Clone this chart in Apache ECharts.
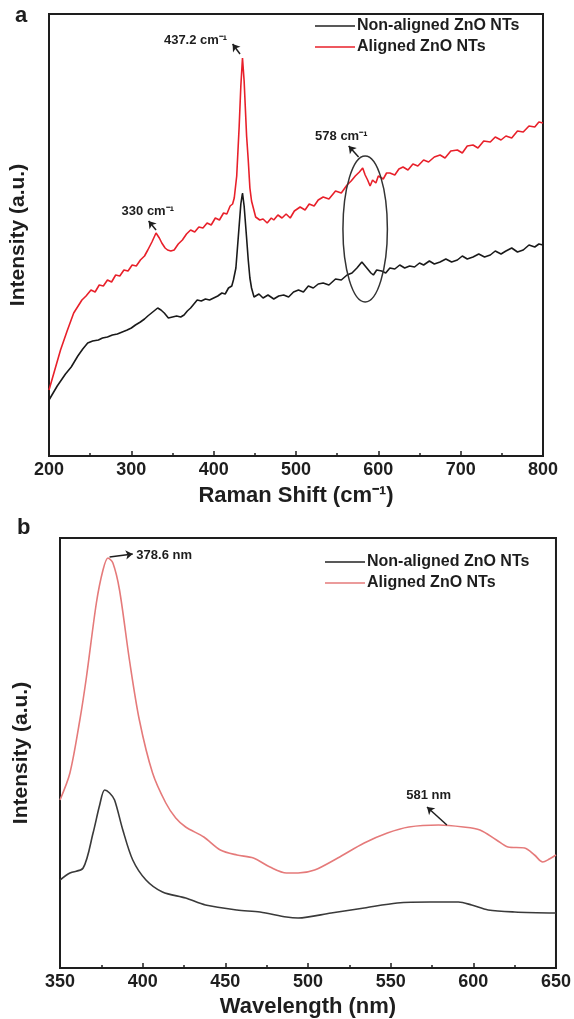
<!DOCTYPE html>
<html lang="en">

<head>
  <meta charset="UTF-8">
  <title>ZnO NTs Raman / PL</title>
  <script src="https://cdn.jsdelivr.net/npm/echarts@6/dist/echarts.min.js"></script>
  <style>
    html, body { margin: 0; padding: 0; background: #fff; }
    #main { width: 574px; height: 1019px; }
  </style>
</head>

<body>
  <div id="main"></div>
  <script>
    // panel a - Raman spectra (intensity in arbitrary units)
    var ramanXNon = [200,205,210,215,220,227,235,241,247,253,260,265,271,277,283,289,295,300,305,311,316,320,326,332,336,340,345,350,355,360,364,368,372,376,380,385,390,395,400,405,410,414,418,422,424,427,430,433,435,437,440,442,444,446,
      449,455,460,466,473,479,485,491,497,503,509,515,521,527,533,540,548,555,562,568,574,580,584,587,591,594,598,604,609,614,620,626,632,638,644,650,655,662,668,675,682,689,696,702,708,715,722,729,736,742,749,755,762,769,776,783,790,795,800]
    var ramanNon = [56,63,70,76,82,89,100,107,113,115,116,118,119,121,122,124,126,128,131,134,137,140,144,148,146,143,138,139,140,139,141,145,148,152,156,155,157,156,158,160,163,162,168,170,176,188,220,252,263,250,218,196,178,168,
      159,162,158,161,157,160,161,159,164,166,164,170,168,172,173,171,177,176,181,183,188,194,190,187,183,181,186,185,183,188,187,191,188,190,189,193,191,195,192,194,197,194,196,200,197,199,202,199,201,205,202,205,208,204,206,211,209,212,211]
    var ramanXAl = [200,207,214,222,230,240,245,251,256,261,266,271,276,281,286,291,296,301,306,311,316,320,325,330,334,337,341,344,348,352,357,362,367,372,377,382,387,392,397,402,407,412,416,420,423,425,428,431,433,435,437,440,442,444,446,
      451,456,460,465,470,473,478,483,488,493,498,505,511,516,522,527,533,540,548,555,562,567,572,577,581,584,587,590,593,597,600,606,610,614,620,625,630,636,642,648,655,661,668,675,681,688,696,702,708,715,721,728,736,742,749,755,762,769,776,783,790,795,800]
    var ramanAl = [66,86,106,125,143,156,160,166,164,171,170,176,174,181,180,186,185,191,190,196,200,206,214,223,218,213,208,206,205,206,212,216,222,226,224,229,228,233,231,238,236,243,242,250,252,258,280,330,370,398,375,320,296,268,255,
      239,236,237,233,238,236,241,238,242,238,245,249,246,252,250,256,259,257,265,263,271,275,280,284,288,281,276,270,276,273,280,277,283,283,281,287,289,286,292,290,296,294,299,301,298,305,306,303,310,311,308,315,314,319,316,320,318,325,324,330,329,334,333]

    // panel b - PL spectra
    var plXNon = [350,356,364,370,374,377,380,383,388,394,402,412,426,438,457,471,487,494,514,534,554,574,591,599,609,625,650]
    var plNon = [80,87,92,127,155,170,167,160,130,100,80,68,62,55,50,48,43,42,47,52,57,58,58,55,50,48,47]
    var plXAl = [350,356,362,366,372,376,379,382,386,392,398,406,414,420,426,437,447,457,467,477,487,494,504,518,534,548,561,579,594,604,614,621,631,637,642,646,650]
    var plAl = [160,187,240,283,357,390,402,397,370,300,240,187,157,142,133,123,110,105,102,93,87,87,90,102,117,127,133,135,133,130,120,113,112,105,98,101,105]

    var ramanTicks = [200, 800, 100]
    var plTicks = [350, 650, 50]
    var names = ['Non-aligned ZnO NTs', 'Aligned ZnO NTs']

    // annotations: label [x, y], arrow from -> to (data units)
    var ramanNotes = [
      { text: '437.2 cm⁻¹', at: [378, 416], from: [432, 402], to: [423, 412] },
      { text: '330 cm⁻¹', at: [320, 245], from: [330, 226], to: [321, 235] },
      { text: '578 cm⁻¹', at: [555, 320], from: [576, 299], to: [564, 310] }
    ]
    var plNotes = [
      { text: '378.6 nm', at: [413, 405], from: [380, 403], to: [394, 406] },
      { text: '581 nm', at: [573, 165], from: [584, 135], to: [572, 153] }
    ]
    // ellipse around the 578 band: centre, half-width, half-height
    var ramanRing = [[584, 227, 27, 73]]

    var FONT = '"Liberation Sans", Arial, sans-serif'
    var INK = '#1e1e1e'

    function zip(xs, ys) { return xs.map(function (x, i) { return [x, ys[i]] }) }

    function notes(list) {
      return {
        points: {
          symbol: 'circle', symbolSize: 1, silent: true,
          itemStyle: { color: 'rgba(0,0,0,0)' },
          label: { show: true, position: 'inside', color: INK, fontFamily: FONT, fontWeight: 'bold', fontSize: 13 },
          data: list.map(function (n) { return { coord: n.at, label: { formatter: n.text } } })
        },
        arrows: {
          silent: true, animation: false, symbolSize: 7,
          lineStyle: { color: INK, width: 1.5, type: 'solid' },
          label: { show: false },
          data: list.map(function (n) {
            return [{ coord: n.from, symbol: 'none' }, { coord: n.to, symbol: 'arrow' }]
          })
        }
      }
    }

    function xAxis(idx, t, name, gap) {
      return {
        gridIndex: idx, type: 'value', min: t[0], max: t[1], interval: t[2],
        name: name, nameLocation: 'middle', nameGap: gap,
        nameTextStyle: { color: INK, fontFamily: FONT, fontWeight: 'bold', fontSize: 22 },
        axisLine: { onZero: false, lineStyle: { color: INK, width: 2 } },
        axisTick: { inside: true, length: 5, lineStyle: { color: INK, width: 1.5 } },
        minorTick: { show: true, splitNumber: 2, length: 3, lineStyle: { color: INK, width: 1.5 } },
        axisLabel: { color: INK, fontFamily: FONT, fontWeight: 'bold', fontSize: 18, margin: 5 },
        splitLine: { show: false }
      }
    }

    function yAxis(idx, min, max, gap) {
      return {
        gridIndex: idx, type: 'value', min: min, max: max,
        name: 'Intensity (a.u.)', nameLocation: 'middle', nameGap: gap,
        nameTextStyle: { color: INK, fontFamily: FONT, fontWeight: 'bold', fontSize: 21 },
        axisLine: { show: true, onZero: false, lineStyle: { color: INK, width: 2 } },
        axisTick: { show: false }, axisLabel: { show: false }, splitLine: { show: false }
      }
    }

    function legend(left, top, red) {
      return {
        left: left, top: top, orient: 'vertical', itemGap: 5,
        icon: 'rect', itemWidth: 40, itemHeight: 1.5, selectedMode: false,
        textStyle: { color: INK, fontFamily: FONT, fontWeight: 'bold', fontSize: 16, padding: [0, 0, 0, -3] },
        data: [
          { name: names[0], itemStyle: { color: '#222' } },
          { name: names[1], itemStyle: { color: red } }
        ]
      }
    }

    var na = notes(ramanNotes)
    var nb = notes(plNotes)

    var myChart = echarts.init(document.getElementById('main'))
    var option = {
      animation: false,
      backgroundColor: '#fff',
      title: [
        { text: 'a', left: 10, top: 0, textStyle: { color: INK, fontFamily: FONT, fontWeight: 'bold', fontSize: 22 } },
        { text: 'b', left: 12, top: 512, textStyle: { color: INK, fontFamily: FONT, fontWeight: 'bold', fontSize: 22 } }
      ],
      legend: [legend(310, 13, '#e8202a'), legend(320, 549, '#e57a7a')],
      grid: [
        { left: 48, top: 14, width: 495, height: 442, show: true, borderColor: INK, borderWidth: 2 },
        { left: 60, top: 538, width: 498, height: 430, show: true, borderColor: INK, borderWidth: 2 }
      ],
      xAxis: [
        xAxis(0, ramanTicks, 'Raman Shift (cm⁻¹)', 29),
        xAxis(1, plTicks, 'Wavelength (nm)', 28)
      ],
      yAxis: [yAxis(0, 0, 442, 20), yAxis(1, -8, 422, 28)],
      series: [
        {
          name: names[0], type: 'line', xAxisIndex: 0, yAxisIndex: 0, showSymbol: false,
          lineStyle: { color: '#1a1a1a', width: 1.6 }, itemStyle: { color: '#1a1a1a' },
          data: zip(ramanXNon, ramanNon), z: 3
        },
        {
          name: names[1], type: 'line', xAxisIndex: 0, yAxisIndex: 0, showSymbol: false,
          lineStyle: { color: '#e8202a', width: 1.6 }, itemStyle: { color: '#e8202a' },
          data: zip(ramanXAl, ramanAl), z: 2,
          markPoint: na.points, markLine: na.arrows
        },
        {
          type: 'custom', xAxisIndex: 0, yAxisIndex: 0, silent: true, z: 4,
          data: ramanRing,
          renderItem: function (params, api) {
            var c = api.coord([api.value(0), api.value(1)])
            var e = api.coord([api.value(0) + api.value(2), api.value(1) + api.value(3)])
            return {
              type: 'ellipse',
              shape: { cx: c[0], cy: c[1], rx: Math.abs(e[0] - c[0]), ry: Math.abs(c[1] - e[1]) },
              style: { fill: 'none', stroke: '#333', lineWidth: 1.5 }
            }
          }
        },
        {
          name: names[0], type: 'line', xAxisIndex: 1, yAxisIndex: 1, showSymbol: false, smooth: 0.3,
          lineStyle: { color: '#3a3a3a', width: 1.6 }, itemStyle: { color: '#3a3a3a' },
          data: zip(plXNon, plNon)
        },
        {
          name: names[1], type: 'line', xAxisIndex: 1, yAxisIndex: 1, showSymbol: false, smooth: 0.3,
          lineStyle: { color: '#e57a7a', width: 1.6 }, itemStyle: { color: '#e57a7a' },
          data: zip(plXAl, plAl),
          markPoint: nb.points, markLine: nb.arrows
        }
      ]
    }
    myChart.setOption(option)
  </script>
</body>

</html>
